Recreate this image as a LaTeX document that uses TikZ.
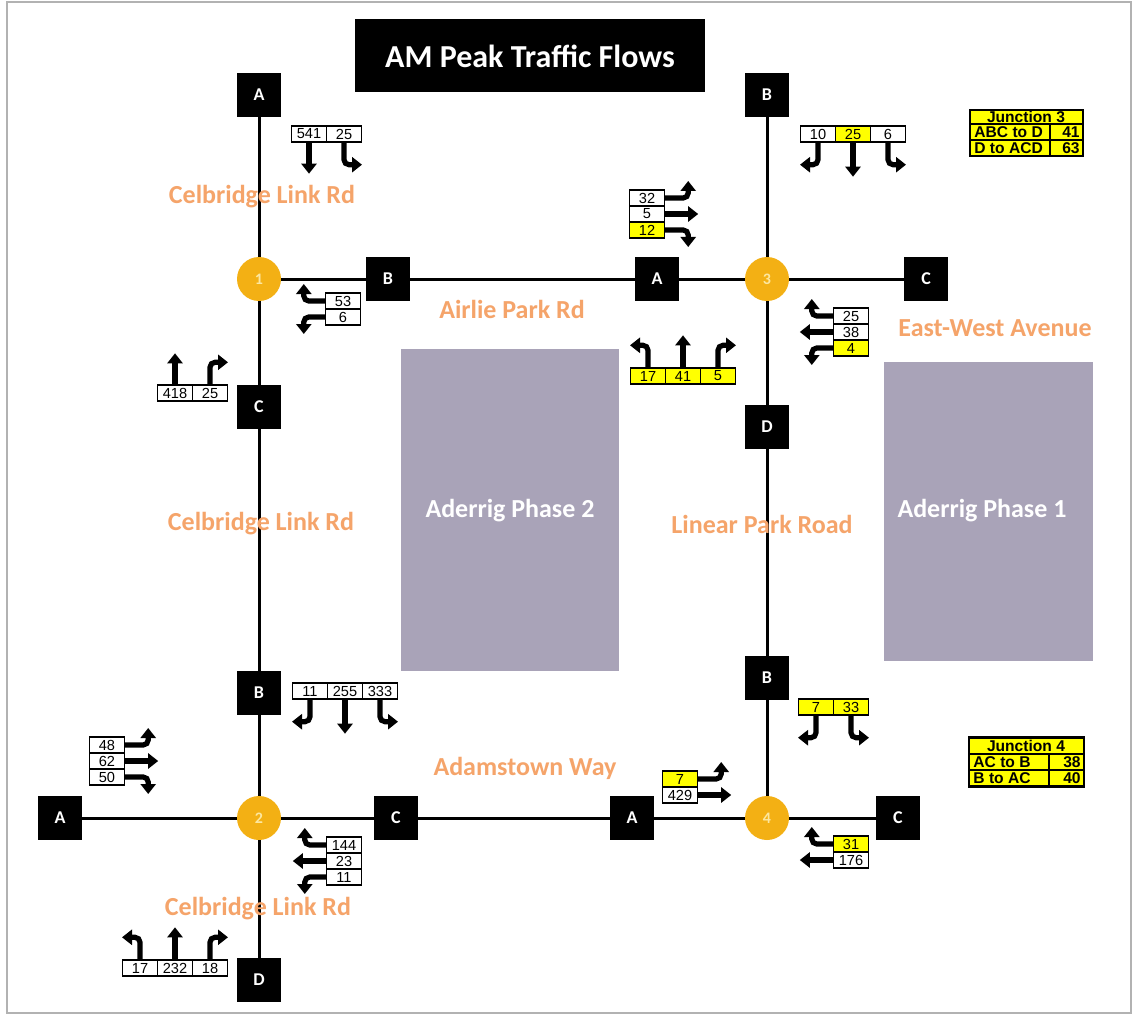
\documentclass[tikz,border=0pt]{standalone}
\usepackage{fontspec}
\setmainfont{Carlito}
\newfontfamily\arialf{Liberation Sans}
\usetikzlibrary{arrows.meta}
\definecolor{jorange}{HTML}{F3B014}
\definecolor{jlabel}{HTML}{FCE7A0}
\definecolor{lblorange}{HTML}{F5A46A}
\definecolor{plotgray}{HTML}{A9A3B8}
\definecolor{yel}{HTML}{FFFF00}
\tikzset{
  road/.style={line width=1.5pt},
  blk/.style={fill=black, minimum size=22pt, inner sep=0pt, text=white, font=\bfseries\fontsize{9}{9}\selectfont},
  junc/.style={circle, fill=jorange, minimum size=22pt, inner sep=0pt, text=jlabel, font=\bfseries\fontsize{8}{8}\selectfont},
  lbl/.style={text=lblorange, font=\bfseries\fontsize{13}{13}\selectfont, inner sep=0pt},
  plotbox/.style={fill=plotgray, inner sep=0pt, text=white, font=\bfseries\fontsize{13}{13}\selectfont},
  cellbox/.style={draw, line width=0.7pt, fill=white, minimum width=17.5pt, minimum height=8pt, inner sep=0pt, font=\arialf\fontsize{7.3}{7.3}\selectfont},
  ycell/.style={cellbox, fill=yel},
  flow/.style={line width=2.6pt, -{Triangle[width=7.5pt,length=5pt]}, rounded corners=2.5pt},
  tabtxt/.style={inner sep=0pt, font=\arialf\bfseries\fontsize{7.8}{7.8}\selectfont},
}
\begin{document}
\begin{tikzpicture}[x=0.5pt,y=-0.5pt]
\useasboundingbox (0,0) rectangle (1134,1016);
\fill[white] (0,0) rectangle (1134,1016);
\draw[gray!60, line width=0.8pt] (7,2) rectangle (1131,1013);

% title
\node[fill=black, minimum width=175pt, minimum height=36.5pt, text=white, font=\bfseries\fontsize{16}{16}\selectfont] (title) at (530,56) {AM Peak Traffic Flows};

% plots
\node[plotbox, minimum width=109pt, minimum height=161pt] (ph2) at (510,510) {};
\node[text=white, font=\bfseries\fontsize{13}{13}\selectfont] (ph2t) at (510,511) {Aderrig Phase 2};
\node[plotbox, minimum width=104.5pt, minimum height=149.5pt] (ph1) at (988.5,511.5) {};
\node[text=white, font=\bfseries\fontsize{13}{13}\selectfont] (ph1t) at (982,511) {Aderrig Phase 1};

% arm boxes and junctions
\node[blk] (A1) at (259,95) {A};
\node[junc] (J1) at (259,279) {1};
\node[blk] (B1) at (388,279) {B};
\node[blk] (C1) at (259,407) {C};
\node[blk] (B2) at (259,693) {B};
\node[junc] (J2) at (259,818) {2};
\node[blk] (A2) at (60,818) {A};
\node[blk] (C2) at (396,818) {C};
\node[blk] (D2) at (259,980) {D};
\node[blk] (A4) at (632,818) {A};
\node[junc] (J4) at (767,818) {4};
\node[blk] (C4) at (898,818) {C};
\node[blk] (B4) at (767,678) {B};
\node[blk] (D3) at (767,427) {D};
\node[junc] (J3) at (767,279) {3};
\node[blk] (B3) at (767,95) {B};
\node[blk] (A3) at (657,279) {A};
\node[blk] (C3) at (926,279) {C};

% roads
\draw[road] (A1) -- (J1) -- (C1) -- (B2) -- (J2) -- (D2);
\draw[road] (J1) -- (B1) -- (A3) -- (J3) -- (C3);
\draw[road] (B3) -- (J3) -- (D3) -- (B4) -- (J4);
\draw[road] (A2) -- (J2) -- (C2) -- (A4) -- (J4) -- (C4);

% road labels
\node[lbl] (l1) at (262,197) {Celbridge Link Rd};
\node[lbl] (l2) at (512,309) {Airlie Park Rd};
\node[lbl] (l3) at (995,328) {East-West Avenue};
\node[lbl] (l4) at (261,524) {Celbridge Link Rd};
\node[lbl] (l5) at (762,524) {Linear Park Road};
\node[lbl] (l6) at (525,768) {Adamstown Way};
\node[lbl] (l7) at (258,909) {Celbridge Link Rd};

% ---- flows
% J1 arm A
\node[cellbox] (fa1) at (309,134) {541};
\node[cellbox] (fa2) at (344,134) {25};
\draw[flow] (fa1.south) -- ++(0,31);
\draw[flow] (fa2.south) |- ++(18,22);
% J1 arm B
\node[cellbox] (fb1) at (343,301) {53};
\node[cellbox] (fb2) at (343,317) {6};
\draw[flow] (fb1.west) -| ++(-21,-17);
\draw[flow] (fb2.west) -| ++(-21,17);
% J1 arm C
\node[cellbox] (fc1) at (175,393) {418};
\node[cellbox] (fc2) at (210,393) {25};
\draw[flow] (fc1.north) -- ++(0,-31);
\draw[flow] (fc2.north) |- ++(18,-22);
% J3 arm A
\node[cellbox] (fd1) at (647,198) {32};
\node[cellbox] (fd2) at (647,214) {5};
\node[ycell] (fd3) at (647,230) {12};
\draw[flow] (fd1.east) -| ++(23,-17);
\draw[flow] (fd2.east) -- ++(33,0);
\draw[flow] (fd3.east) -| ++(23,17);
% J3 arm B
\node[cellbox] (fe1) at (818,134) {10};
\node[ycell] (fe2) at (853,134) {25};
\node[cellbox] (fe3) at (888,134) {6};
\draw[flow] (fe1.south) |- ++(-18,22);
\draw[flow] (fe2.south) -- ++(0,34);
\draw[flow] (fe3.south) |- ++(18,22);
% J3 arm C
\node[cellbox] (ff1) at (851,316) {25};
\node[cellbox] (ff2) at (851,332) {38};
\node[ycell] (ff3) at (851,348) {4};
\draw[flow] (ff1.west) -| ++(-21,-17);
\draw[flow] (ff2.west) -- ++(-33,0);
\draw[flow] (ff3.west) -| ++(-21,17);
% J3 arm D
\node[ycell] (fg1) at (648,376) {17};
\node[ycell] (fg2) at (683,376) {41};
\node[ycell] (fg3) at (718,376) {5};
\draw[flow] (fg1.north) |- ++(-18,-22);
\draw[flow] (fg2.north) -- ++(0,-32);
\draw[flow] (fg3.north) |- ++(18,-22);
% J2 arm B
\node[cellbox] (fh1) at (310,691) {11};
\node[cellbox] (fh2) at (345,691) {255};
\node[cellbox] (fh3) at (380,691) {333};
\draw[flow] (fh1.south) |- ++(-18,22);
\draw[flow] (fh2.south) -- ++(0,34);
\draw[flow] (fh3.south) |- ++(18,22);
% J2 arm A
\node[cellbox] (fi1) at (107,745) {48};
\node[cellbox] (fi2) at (107,761) {62};
\node[cellbox] (fi3) at (107,777) {50};
\draw[flow] (fi1.east) -| ++(23,-17);
\draw[flow] (fi2.east) -- ++(33,0);
\draw[flow] (fi3.east) -| ++(23,17);
% J2 arm C
\node[cellbox] (fj1) at (344,845) {144};
\node[cellbox] (fj2) at (344,861) {23};
\node[cellbox] (fj3) at (344,877) {11};
\draw[flow] (fj1.west) -| ++(-21,-17);
\draw[flow] (fj2.west) -- ++(-33,0);
\draw[flow] (fj3.west) -| ++(-21,17);
% J2 arm D
\node[cellbox] (fk1) at (140,968) {17};
\node[cellbox] (fk2) at (175,968) {232};
\node[cellbox] (fk3) at (210,968) {18};
\draw[flow] (fk1.north) |- ++(-18,-22);
\draw[flow] (fk2.north) -- ++(0,-32);
\draw[flow] (fk3.north) |- ++(18,-22);
% J4 arm B
\node[ycell] (fl1) at (816,707) {7};
\node[ycell] (fl2) at (851,707) {33};
\draw[flow] (fl1.south) |- ++(-18,22);
\draw[flow] (fl2.south) |- ++(18,22);
% J4 arm A
\node[ycell] (fm1) at (680,779) {7};
\node[cellbox] (fm2) at (680,795) {429};
\draw[flow] (fm1.east) -| ++(23,-17);
\draw[flow] (fm2.east) -- ++(33,0);
% J4 arm C
\node[ycell] (fn1) at (851,844) {31};
\node[cellbox] (fn2) at (851,860) {176};
\draw[flow] (fn1.west) -| ++(-21,-17);
\draw[flow] (fn2.west) -- ++(-33,0);

% Junction 3 table
\node[fill=yel, draw, line width=1.2pt, minimum width=56.5pt, minimum height=23pt, inner sep=0pt] (t3) at (1026.5,133) {};
\draw[line width=1pt] (970,124) -- (1083,124);
\draw[line width=0.7pt] (970,140) -- (1083,140);
\draw[line width=0.7pt] (1050,124) -- (1050,156);
\node[tabtxt] (t3h) at (1026,117) {Junction 3};
\node[tabtxt, anchor=west] (t3a) at (974,132.5) {ABC to D};
\node[tabtxt, anchor=east] (t3b) at (1080,132.5) {41};
\node[tabtxt, anchor=west] (t3c) at (974,148.5) {D to ACD};
\node[tabtxt, anchor=east] (t3d) at (1080,148.5) {63};

% Junction 4 table
\node[fill=yel, draw, line width=1.2pt, minimum width=57.5pt, minimum height=24.5pt, inner sep=0pt] (t4) at (1026.5,762) {};
\draw[line width=1pt] (969,754) -- (1084,754);
\draw[line width=0.7pt] (969,770) -- (1084,770);
\draw[line width=0.7pt] (1049,754) -- (1049,787);
\node[tabtxt] (t4h) at (1026,746) {Junction 4};
\node[tabtxt, anchor=west] (t4a) at (973,762.5) {AC to B};
\node[tabtxt, anchor=east] (t4b) at (1081,762.5) {38};
\node[tabtxt, anchor=west] (t4c) at (973,778.5) {B to AC};
\node[tabtxt, anchor=east] (t4d) at (1081,778.5) {40};
\end{tikzpicture}
\end{document}
